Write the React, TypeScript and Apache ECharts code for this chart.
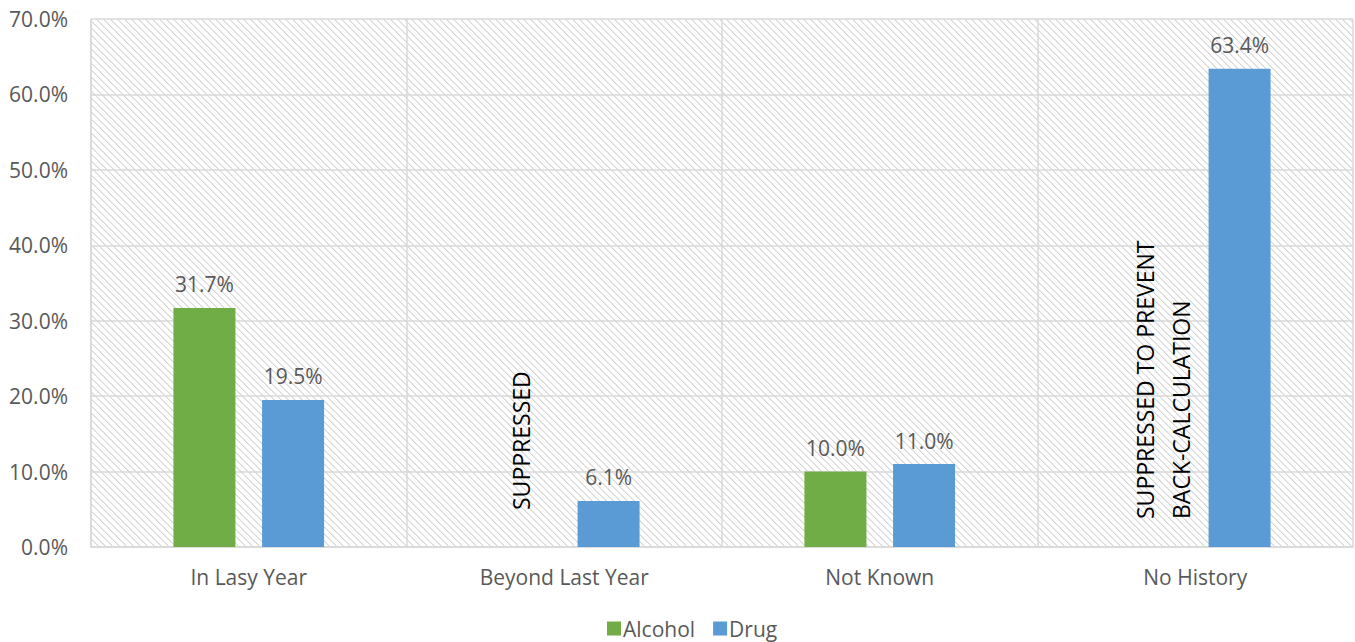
import React, { useEffect, useRef } from "react";
import * as echarts from "echarts";

const categories = ["In Lasy Year", "Beyond Last Year", "Not Known", "No History"];
// null marks a suppressed value
const alcohol: (number | null)[] = [0.317, null, 0.1, null];
const drug: number[] = [0.195, 0.061, 0.11, 0.634];
const suppressedNotes: (string | null)[] = [null, "SUPPRESSED", null, "SUPPRESSED TO PREVENT\nBACK-CALCULATION"];
const yTicks = { min: 0, max: 0.7, interval: 0.1 };

const FONT = "Open Sans";
const TEXT = "#595959";
const GRID_LINE = "#d9d9d9";
const FS = 21;

function hatchTile(size: number): string {
  const c = document.createElement("canvas");
  c.width = size;
  c.height = size;
  const ctx = c.getContext("2d")!;
  ctx.fillStyle = "#ffffff";
  ctx.fillRect(0, 0, size, size);
  for (let y = 0; y < size; y++) {
    for (let x = 0; x < size; x++) {
      const d = (x - y + size * 2) % size;
      if (d === 0) {
        ctx.fillStyle = "#d6d6d6";
        ctx.fillRect(x, y, 1, 1);
      } else if (d === 1) {
        ctx.fillStyle = "#ebebeb";
        ctx.fillRect(x, y, 1, 1);
      }
    }
  }
  return c.toDataURL();
}

const pct = (v: number) => (v * 100).toFixed(1) + "%";

export default function App() {
  const ref = useRef<HTMLDivElement>(null);

  useEffect(() => {
    if (!ref.current) return;
    const chart = echarts.init(ref.current, undefined, { renderer: "svg" });

    const alcoholData = alcohol.map((v, i) => {
      const note = suppressedNotes[i];
      if (v === null && note) {
        const twoLine = note.includes("\n");
        return {
          value: 0,
          label: {
            show: true,
            formatter: note,
            position: "insideBottom",
            rotate: 90,
            align: "left",
            verticalAlign: "middle",
            distance: twoLine ? 28 : 37,
            offset: twoLine ? [0, 12] : [0, 1],
            color: "#000000",
            fontSize: 23,
            lineHeight: 36,
            fontFamily: FONT,
          },
        };
      }
      return { value: v };
    });

    const tile = 7;

    chart.setOption({
      animation: false,
      textStyle: { fontFamily: FONT },
      grid: {
        left: 91,
        top: 19,
        right: 2,
        bottom: 95,
        show: true,
        borderWidth: 0,
        backgroundColor: {
          image: hatchTile(tile),
          repeat: "repeat",
          imageWidth: tile,
          imageHeight: tile,
        },
      },
      legend: {
        data: ["Alcohol", "Drug"],
        left: 602,
        bottom: -2,
        itemWidth: 14,
        itemHeight: 14,
        itemGap: 18,
        icon: "rect",
        textStyle: { color: TEXT, fontSize: FS, fontFamily: FONT, padding: [0, 0, 0, -3] },
      },
      xAxis: {
        type: "category",
        data: categories,
        axisLine: { lineStyle: { color: GRID_LINE, width: 1.5 } },
        axisTick: { show: false },
        splitLine: { show: true, lineStyle: { color: GRID_LINE, width: 1.5 } },
        axisLabel: { color: TEXT, fontSize: FS, fontFamily: FONT, margin: 19 },
      },
      yAxis: {
        type: "value",
        min: yTicks.min,
        max: yTicks.max,
        interval: yTicks.interval,
        axisLine: { show: true, lineStyle: { color: GRID_LINE, width: 1.5 } },
        axisTick: { show: false },
        splitLine: { lineStyle: { color: GRID_LINE, width: 1.5 } },
        axisLabel: { color: TEXT, fontSize: FS, fontFamily: FONT, margin: 23, formatter: (v: number) => pct(v) },
      },
      series: [
        {
          name: "Alcohol",
          type: "bar",
          data: alcoholData,
          barWidth: 62,
          barGap: "43%",
          itemStyle: { color: "#70ad47" },
          label: {
            show: true,
            position: "top",
            distance: 13,
            color: TEXT,
            fontSize: FS,
            fontFamily: FONT,
            formatter: (p: any) => pct(p.value),
          },
        },
        {
          name: "Drug",
          type: "bar",
          data: drug,
          barWidth: 62,
          barGap: "43%",
          itemStyle: { color: "#5b9bd5" },
          label: {
            show: true,
            position: "top",
            distance: 13,
            color: TEXT,
            fontSize: FS,
            fontFamily: FONT,
            formatter: (p: any) => pct(p.value),
          },
        },
      ],
    });

    return () => chart.dispose();
  }, []);

  return (
    <div
      ref={ref}
      style={{ position: "fixed", left: 0, top: 0, width: 1355, height: 642, background: "#ffffff" }}
    />
  );
}
